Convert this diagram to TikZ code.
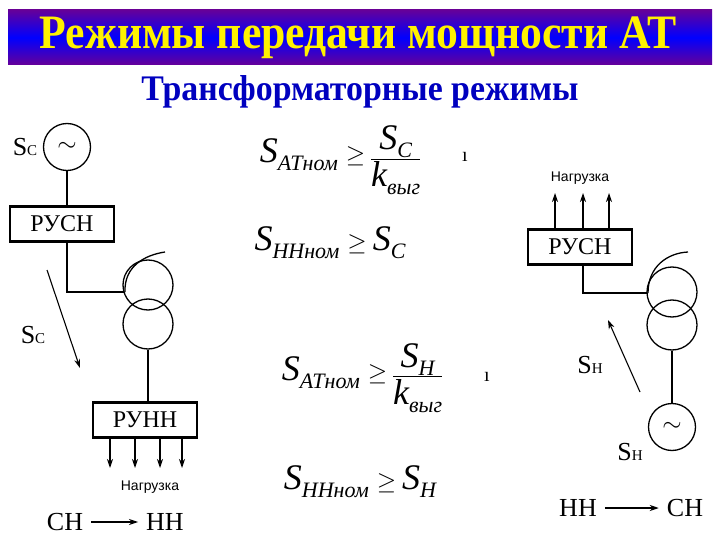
\documentclass[tikz,border=0pt]{standalone}
\usepackage{fontspec}
\setmainfont{Liberation Serif}
\setsansfont{Liberation Sans}
\usetikzlibrary{arrows.meta}
\newcommand{\bigS}[1]{{\fontsize{36}{36}\selectfont\itshape S}\raisebox{-8pt}{\fontsize{22}{22}\selectfont\itshape #1}}
\newcommand{\smK}{{\fontsize{36}{36}\selectfont\itshape k}\raisebox{-8pt}{\fontsize{22}{22}\selectfont\itshape выг}}
\newcommand{\geqs}{\hspace{8pt}{\fontsize{32}{32}\selectfont$\geq$}\hspace{6pt}}
\newcommand{\sfrac}[2]{$\vcenter{\halign{\hfil##\hfil\cr\strut#1\cr\noalign{\kern1pt\hrule height0.8pt\kern2pt}\strut#2\cr}}$}
\newcommand{\Slab}[1]{{\fontsize{26}{26}\selectfont S}{\fontsize{15}{15}\selectfont #1}}
\begin{document}
\begin{tikzpicture}[x=1pt,y=-1pt,
  box/.style={draw,line width=2.6pt,minimum width=104pt,minimum height=35pt,inner sep=0pt,font=\fontsize{24}{24}\selectfont},
  ring/.style={draw,line width=1.3pt,circle,minimum size=50pt,inner sep=0pt},
  gen/.style={draw,line width=1.3pt,circle,minimum size=47pt,inner sep=0pt,font=\fontsize{32}{32}\selectfont},
  wire/.style={line width=1.3pt},
  arr/.style={line width=1.1pt,-{Stealth[length=9pt,width=6pt]}},
  lbl/.style={inner sep=0pt},
  ld/.style={font=\sffamily\fontsize{14}{14}\selectfont,inner sep=0pt}]
\useasboundingbox (0,0) rectangle (720,540);
% title bar
\shade[top color=violet!80!blue,bottom color=violet!80!blue,middle color=blue] (8,10) rectangle (712,65);
\node[lbl,text=yellow,font=\bfseries\fontsize{48}{48}\selectfont] (title) at (358,38) {\scalebox{0.91}[1]{Режимы передачи мощности АТ}};
\node[lbl,text=blue!75!black,font=\bfseries\fontsize{36}{36}\selectfont] (sub) at (360,92) {\scalebox{0.94}[1]{Трансформаторные режимы}};
% left diagram
\node[gen] (g1) at (67,147) {$\sim$};
\node[lbl] (sc1) at (25,147) {\Slab{C}};
\node[box] (rusn1) at (62,224) {РУСН};
\draw[wire] (g1) -- (rusn1.north -| g1);
\node[ring] (t1a) at (148,285) {};
\node[ring] (t1b) at (148,324) {};
\coordinate (j1) at (67,292);
\draw[wire] (rusn1.south -| j1) -- (j1) -- (124,292);
\draw[wire] (125,292) .. controls (124,266) and (145,255) .. (165,252);
\node[box] (runn) at (145,420) {РУНН};
\draw[wire] (t1b.south) -- (runn.north -| t1b);
\foreach \x in {110,135,160,182}{\draw[arr] (\x,438) -- (\x,468);}
\node[ld] (n1) at (150,487) {Нагрузка};
\coordinate (a1s) at (47,270); \coordinate (a1e) at (80,368);
\draw[arr] (a1s) -- (a1e);
\node[lbl] (sc2) at (33,335) {\Slab{C}};
\node[lbl,font=\fontsize{26}{26}\selectfont] (ch1) at (65,522) {СН};
\node[lbl,font=\fontsize{26}{26}\selectfont] (nn1) at (165,522) {НН};
\draw[arr] ([xshift=8pt]ch1.east) -- ([xshift=-8pt]nn1.west);
% right diagram
\node[ld] (n2) at (580,178) {Нагрузка};
\node[box] (rusn2) at (580,247) {РУСН};
\foreach \x in {555,583,609}{\draw[arr] (\x,230) -- (\x,193);}
\node[ring] (t2a) at (672,292) {};
\node[ring] (t2b) at (672,325) {};
\coordinate (j2) at (583,293);
\draw[wire] (rusn2.south -| j2) -- (j2) -- (647,293);
\draw[wire] (648,293) .. controls (648,266) and (668,253) .. (688,252);
\node[gen] (g2) at (672,427) {$\sim$};
\draw[wire] (t2b.south) -- (g2.north);
\node[lbl] (sh1) at (630,452) {\Slab{H}};
\node[lbl] (sh2) at (590,365) {\Slab{H}};
\coordinate (a2s) at (640,392); \coordinate (a2e) at (608,320);
\draw[arr] (a2s) -- (a2e);
\node[lbl,font=\fontsize{26}{26}\selectfont] (nn2) at (578,508) {НН};
\node[lbl,font=\fontsize{26}{26}\selectfont] (ch2) at (685,508) {СН};
\draw[arr] ([xshift=8pt]nn2.east) -- ([xshift=-8pt]ch2.west);
% formulas
\node[lbl] (f1) at (340,160) {\bigS{АТном}\geqs\sfrac{\hspace{6pt}\bigS{C}\hspace{6pt}}{\smK}};
\node[lbl] (f2) at (330,243) {\bigS{ННном}\geqs\bigS{C}};
\node[lbl] (f3) at (362,378) {\bigS{АТном}\geqs\sfrac{\hspace{6pt}\bigS{H}\hspace{6pt}}{\smK}};
\node[lbl] (f4) at (360,482) {\bigS{ННном}\geqs\bigS{H}};
\node[lbl,font=\fontsize{20}{20}\selectfont] (i1) at (465,157) {ı};
\node[lbl,font=\fontsize{20}{20}\selectfont] (i2) at (487,377) {ı};
\end{tikzpicture}
\end{document}
